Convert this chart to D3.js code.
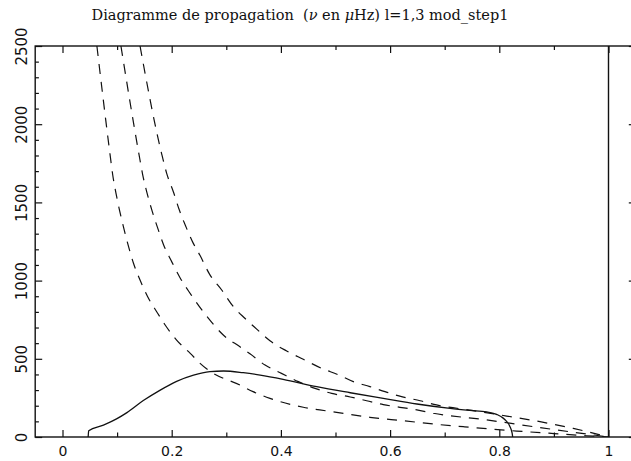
<!DOCTYPE html>
<html>
<head>
<meta charset="utf-8">
<script src="https://cdn.jsdelivr.net/npm/d3@7"></script>
<style>
  html, body { margin: 0; padding: 0; background: #fff; }
  svg { display: block; }
</style>
</head>
<body>
<svg id="chart" width="631" height="461"></svg>
<script>
// Propagation diagram: Lamb frequencies (dashed, l = 1, 2, 3) and
// Brunt-Vaisala frequency (solid), in microHz, against r/R.

const xMajorTicks = [0, 0.2, 0.4, 0.6, 0.8, 1];
const xMinorTicks = [0.1, 0.3, 0.5, 0.7, 0.9];
const xTickLabels = ["0", "0.2", "0.4", "0.6", "0.8", "1"];
const yMajorTicks = [0, 500, 1000, 1500, 2000, 2500];
const yMinorTicks = [100, 200, 300, 400, 600, 700, 800, 900, 1100, 1200, 1300, 1400,
                     1600, 1700, 1800, 1900, 2100, 2200, 2300, 2400];
const yTickLabels = ["0", "500", "1000", "1500", "2000", "2500"];

// Lamb frequency, l = 1  [r/R, nu]
const lambL1 = [
  [0.063, 2500], [0.087, 1809], [0.092, 1675], [0.098, 1558], [0.105, 1441],
  [0.113, 1324], [0.121, 1217], [0.130, 1111], [0.142, 1004], [0.156, 897],
  [0.1725, 801], [0.188, 716], [0.209, 620], [0.234, 535], [0.252, 471],
  [0.267, 428], [0.325, 332], [0.349, 290], [0.38, 247], [0.441, 190],
  [0.502, 158], [0.563, 126], [0.624, 104], [0.685, 81], [0.734, 66],
  [0.832, 38], [0.9, 22], [0.96, 8], [1.0, 0]
];

// Lamb frequency, l = 2
const lambL2 = [
  [0.107, 2500], [0.140, 1809], [0.147, 1675], [0.155, 1558], [0.1645, 1441],
  [0.1755, 1324], [0.1865, 1217], [0.198, 1135], [0.215, 1020], [0.235, 912],
  [0.267, 760], [0.2945, 652], [0.325, 577], [0.344, 530], [0.371, 460],
  [0.401, 407], [0.432, 354], [0.4625, 311], [0.493, 279], [0.527, 256],
  [0.557, 232], [0.5875, 207], [0.618, 190], [0.649, 173], [0.679, 152],
  [0.777, 109], [0.8745, 60], [0.96, 19], [1.0, 0]
];

// Lamb frequency, l = 3
const lambL3 = [
  [0.142, 2500], [0.1817, 1809], [0.1908, 1686], [0.203, 1568], [0.214, 1451],
  [0.226, 1345], [0.2396, 1238], [0.252, 1160], [0.269, 1043], [0.2916, 940],
  [0.313, 833], [0.334, 759], [0.3557, 690], [0.38, 615], [0.4106, 550],
  [0.441, 497], [0.4747, 439], [0.505, 398], [0.5326, 354], [0.563, 322],
  [0.5907, 290], [0.621, 258], [0.655, 232], [0.685, 205], [0.75, 170],
  [0.8135, 134], [0.8745, 98], [0.9355, 55], [1.0, 0]
];

// Brunt-Vaisala frequency
const bruntN = [
  [0.047, 0], [0.048, 40], [0.075, 76], [0.099, 116], [0.118, 156],
  [0.148, 233], [0.179, 300], [0.209, 356], [0.24, 396], [0.27, 418],
  [0.295, 422], [0.331, 411], [0.362, 396], [0.404, 369], [0.4656, 322],
  [0.527, 283], [0.5875, 247], [0.649, 211], [0.71, 183], [0.746, 170],
  [0.777, 160], [0.795, 145], [0.81, 112], [0.8196, 66], [0.8235, 25],
  [0.8245, 0]
];

// Surface marker line at r/R = 1
const surfaceLine = [[1, 0], [1, 2500]];

const svg = d3.select("#chart");

const x = d3.scaleLinear().domain([-0.05, 1.05]).range([35.2, 635.8]);
const y = d3.scaleLinear().domain([0, 2500]).range([437, 46]);

const ink = "#111";

// clip for the curves
svg.append("defs").append("clipPath").attr("id", "plotClip")
  .append("rect")
  .attr("x", x(-0.05)).attr("y", y(2500))
  .attr("width", x(1.05) - x(-0.05)).attr("height", y(0) - y(2500));

// frame
svg.append("rect")
  .attr("x", x(-0.05)).attr("y", y(2500))
  .attr("width", x(1.05) - x(-0.05)).attr("height", y(0) - y(2500))
  .attr("fill", "none").attr("stroke", ink).attr("stroke-width", 1.4);

function styleAxis(g) {
  g.select(".domain").remove();
  g.selectAll(".tick line").attr("stroke", ink).attr("stroke-width", 1.2);
}

// bottom axis
const gBottom = svg.append("g").attr("transform", `translate(0,${y(0)})`)
  .call(d3.axisBottom(x).tickValues(xMajorTicks).tickSize(-7).tickPadding(9.5)
    .tickFormat((d, i) => xTickLabels[i]));
styleAxis(gBottom);
gBottom.selectAll(".tick text")
  .attr("font-family", "'DejaVu Sans', sans-serif").attr("font-size", 14)
  .attr("fill", ink);
svg.append("g").attr("transform", `translate(0,${y(0)})`)
  .call(d3.axisBottom(x).tickValues(xMinorTicks).tickSize(-4.5).tickFormat(""))
  .call(styleAxis);

// top axis
svg.append("g").attr("transform", `translate(0,${y(2500)})`)
  .call(d3.axisTop(x).tickValues(xMajorTicks).tickSize(-7).tickFormat(""))
  .call(styleAxis);
svg.append("g").attr("transform", `translate(0,${y(2500)})`)
  .call(d3.axisTop(x).tickValues(xMinorTicks).tickSize(-4).tickFormat(""))
  .call(styleAxis);

// left axis
const gLeft = svg.append("g").attr("transform", `translate(${x(-0.05)},0)`)
  .call(d3.axisLeft(y).tickValues(yMajorTicks).tickSize(-7)
    .tickFormat((d, i) => yTickLabels[i]));
styleAxis(gLeft);
gLeft.selectAll(".tick text")
  .attr("x", null).attr("dy", null)
  .attr("text-anchor", "middle")
  .attr("transform", "translate(-8,0) rotate(-90)")
  .attr("font-family", "'DejaVu Sans', sans-serif").attr("font-size", 15)
  .attr("fill", ink);
svg.append("g").attr("transform", `translate(${x(-0.05)},0)`)
  .call(d3.axisLeft(y).tickValues(yMinorTicks).tickSize(-3.7).tickFormat(""))
  .call(styleAxis);

// right axis
svg.append("g").attr("transform", `translate(${x(1.05)},0)`)
  .call(d3.axisRight(y).tickValues(yMajorTicks).tickSize(-7).tickFormat(""))
  .call(styleAxis);
svg.append("g").attr("transform", `translate(${x(1.05)},0)`)
  .call(d3.axisRight(y).tickValues(yMinorTicks).tickSize(-3.7).tickFormat(""))
  .call(styleAxis);

// curves
const line = d3.line().x(d => x(d[0])).y(d => y(d[1])).curve(d3.curveMonotoneX);
const plot = svg.append("g").attr("clip-path", "url(#plotClip)");

[lambL1, lambL2, lambL3].forEach(series => {
  plot.append("path").datum(series)
    .attr("d", line)
    .attr("fill", "none").attr("stroke", ink).attr("stroke-width", 1.2)
    .attr("stroke-dasharray", "10,8");
});

plot.append("path").datum(bruntN)
  .attr("d", line)
  .attr("fill", "none").attr("stroke", ink).attr("stroke-width", 1.3);

plot.append("path").datum(surfaceLine)
  .attr("d", d3.line().x(d => x(d[0])).y(d => y(d[1])))
  .attr("fill", "none").attr("stroke", ink).attr("stroke-width", 1.4);

// title
const title = svg.append("text")
  .attr("x", 300).attr("y", 20)
  .attr("text-anchor", "middle")
  .attr("font-family", "'DejaVu Serif', serif").attr("font-size", 14.5)
  .attr("fill", ink)
  .attr("xml:space", "preserve")
  .style("white-space", "pre");
title.append("tspan").text("Diagramme de propagation  (");
title.append("tspan").attr("font-style", "italic").text("\u03BD");
title.append("tspan").text(" en ");
title.append("tspan").attr("font-style", "italic").text("\u03BC");
title.append("tspan").text("Hz) l=1,3 mod_step1");
</script>
</body>
</html>
